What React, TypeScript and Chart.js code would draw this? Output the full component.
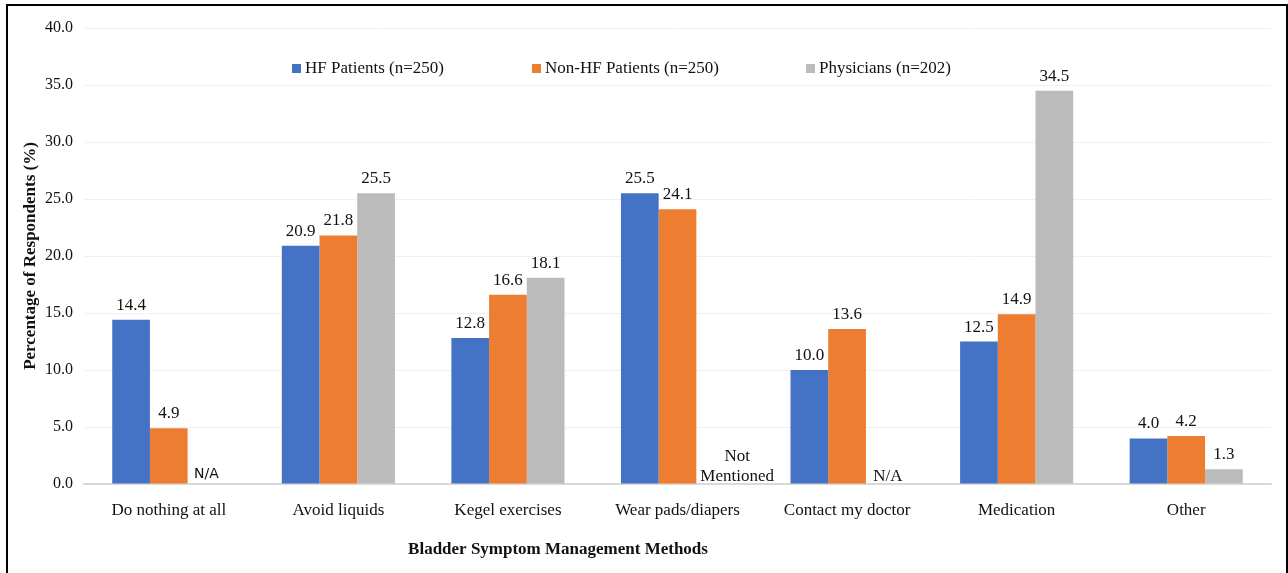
import React, { useEffect, useRef } from 'react';
import { Chart, registerables } from 'chart.js';

Chart.register(...registerables);

const categories = [
  'Do nothing at all',
  'Avoid liquids',
  'Kegel exercises',
  'Wear pads/diapers',
  'Contact my doctor',
  'Medication',
  'Other',
];
const seriesNames = ['HF Patients (n=250)', 'Non-HF Patients (n=250)', 'Physicians (n=202)'];
const hfPatients = [14.4, 20.9, 12.8, 25.5, 10.0, 12.5, 4.0];
const nonHfPatients = [4.9, 21.8, 16.6, 24.1, 13.6, 14.9, 4.2];
const physicians: (number | null)[] = [null, 25.5, 18.1, null, null, 34.5, 1.3];
const missingLabels: (string | null)[] = [
  'N/A',
  null,
  null,
  'Not\nMentioned',
  'N/A',
  null,
  null,
];
const colors = ['#4472C4', '#ED7D31', '#BBBBBB'];
const yTitle = 'Percentage of Respondents (%)';
const xTitle = 'Bladder Symptom Management Methods';

const SERIF = '"Liberation Serif", "Times New Roman", serif';
const SANS = '"DejaVu Sans", sans-serif';

const labelPlugin = {
  id: 'customLabels',
  afterDatasetsDraw(chart: any) {
    const ctx = chart.ctx;
    ctx.save();
    ctx.fillStyle = '#111';
    ctx.textAlign = 'center';
    ctx.textBaseline = 'alphabetic';
    ctx.font = `17px ${SERIF}`;
    chart.data.datasets.forEach((ds: any, i: number) => {
      const meta = chart.getDatasetMeta(i);
      meta.data.forEach((el: any, j: number) => {
        const v = ds.data[j];
        if (v === null || v === undefined) return;
        ctx.fillText(v.toFixed(1), el.x, el.y - 10);
      });
    });
    // missing labels for the third series
    const meta1 = chart.getDatasetMeta(1);
    const yBase = chart.scales.y.getPixelForValue(0);
    missingLabels.forEach((txt, j) => {
      if (!txt) return;
      const prev = meta1.data[j];
      const x = prev.x + prev.width;
      if (txt === 'N/A' && j === 0) {
        ctx.font = `14px ${SANS}`;
        ctx.fillText(txt, x, yBase - 6);
      } else if (txt.includes('\n')) {
        ctx.font = `17px ${SERIF}`;
        const lines = txt.split('\n');
        const cx = x + 22;
        lines.forEach((ln, k) => {
          ctx.fillText(ln, cx, yBase - 3 - (lines.length - 1 - k) * 20);
        });
      } else {
        ctx.font = `17px ${SERIF}`;
        ctx.fillText(txt, x + 3, yBase - 3);
      }
    });
    ctx.restore();
  },
  afterDraw(chart: any) {
    const ctx = chart.ctx;
    ctx.save();
    // legend
    const starts = [292, 532, 806];
    ctx.font = `17px ${SERIF}`;
    ctx.textAlign = 'left';
    ctx.textBaseline = 'middle';
    seriesNames.forEach((name, i) => {
      ctx.fillStyle = colors[i];
      ctx.fillRect(starts[i], 64, 9, 9);
      ctx.fillStyle = '#111';
      ctx.fillText(name, starts[i] + 13, 69);
    });
    // x axis title
    ctx.font = `bold 17px ${SERIF}`;
    ctx.textAlign = 'center';
    ctx.fillText(xTitle, 558, 550);
    ctx.restore();
  },
};

export default function App() {
  const ref = useRef<HTMLCanvasElement>(null);
  useEffect(() => {
    if (!ref.current) return;
    const chart = new Chart(ref.current, {
      type: 'bar',
      data: {
        labels: categories,
        datasets: [
          { label: seriesNames[0], data: hfPatients, backgroundColor: colors[0] },
          { label: seriesNames[1], data: nonHfPatients, backgroundColor: colors[1] },
          { label: seriesNames[2], data: physicians, backgroundColor: colors[2] },
        ],
      },
      options: {
        animation: false,
        responsive: false,
        maintainAspectRatio: false,
        layout: { padding: { left: 0, right: 17, top: 28, bottom: 0 } },
        datasets: {
          bar: { categoryPercentage: 0.667, barPercentage: 1.0, borderWidth: 0 },
        },
        plugins: {
          legend: { display: false },
          tooltip: { enabled: false },
        },
        scales: {
          x: {
            grid: { display: false },
            border: { display: true, color: '#d9d9d9', width: 1.5 },
            ticks: {
              color: '#111',
              font: { family: SERIF, size: 17 },
              padding: 8,
              maxRotation: 0,
              autoSkip: false,
            },
            afterFit: (s: any) => {
              s.height = 89;
            },
          },
          y: {
            min: 0,
            max: 40,
            border: { display: false },
            grid: {
              color: (c: any) => (c.tick && c.tick.value === 0 ? '#d9d9d9' : '#f0f0f0'),
              drawTicks: false,
            },
            ticks: {
              stepSize: 5,
              color: '#111',
              padding: 11,
              font: { family: SERIF, size: 16 },
              callback: (v: any) => Number(v).toFixed(1),
            },
            title: {
              display: true,
              text: yTitle,
              color: '#111',
              font: { family: SERIF, size: 17, weight: 'bold' },
              padding: { top: 20, bottom: 0 },
            },
            afterFit: (s: any) => {
              s.width = 84;
            },
          },
        },
      },
      plugins: [labelPlugin],
    });
    return () => chart.destroy();
  }, []);
  return (
    <div style={{ position: 'fixed', left: 0, top: 0, width: 1288, height: 573, overflow: 'hidden', background: '#fff' }}>
      <div
        style={{
          position: 'absolute',
          left: 6,
          top: 4,
          width: 1282,
          height: 620,
          border: '2px solid #000',
          boxSizing: 'border-box',
        }}
      />
      <canvas ref={ref} width={1288} height={573} style={{ position: 'absolute', left: 0, top: 0, width: 1288, height: 573 }} />
    </div>
  );
}
